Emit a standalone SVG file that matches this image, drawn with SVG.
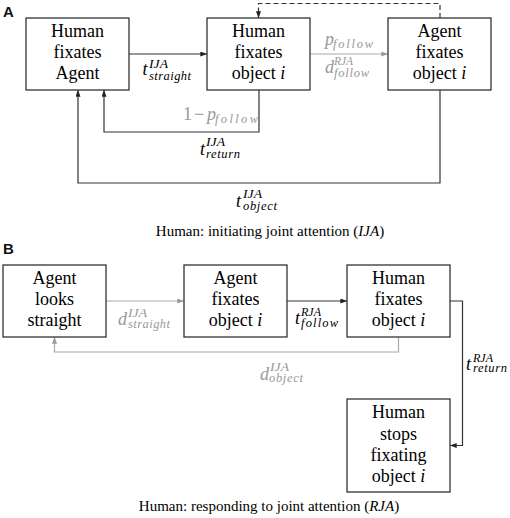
<svg xmlns="http://www.w3.org/2000/svg" width="510" height="518" viewBox="0 0 510 518">
<style>
.box{fill:#fff;stroke:#333;stroke-width:1.3}
.nt{font-size:18px;fill:#000;text-anchor:middle}
.m{font-style:italic;fill:#000}
.big{font-size:18px}
.sm{font-size:12.5px}
.g{fill:#999}
.ln{fill:none;stroke:#333;stroke-width:1.2}
.lg{fill:none;stroke:#aaa;stroke-width:1.2}
.cap{font-size:15px;fill:#000;text-anchor:middle}
.pl{font-family:'Liberation Sans',Arial,sans-serif;font-weight:bold;font-size:15px;fill:#111}
</style>
<defs>
<marker id="ah" viewBox="0 0 8 6" refX="8" refY="3" markerWidth="7" markerHeight="5" orient="auto" markerUnits="userSpaceOnUse"><path d="M0,0 L8,3 L0,6 z" fill="#222"/></marker>
<marker id="ahg" viewBox="0 0 8 6" refX="8" refY="3" markerWidth="7" markerHeight="5" orient="auto" markerUnits="userSpaceOnUse"><path d="M0,0 L8,3 L0,6 z" fill="#999"/></marker>
</defs>
<rect width="510" height="518" fill="#fff"/>
<text class="pl" x="3" y="17">A</text>
<text class="pl" x="3" y="254">B</text>

<g id="connectors">
<path class="ln" d="M129,54 H207" marker-end="url(#ah)"/>
<path class="lg" d="M310,54 H388" marker-end="url(#ahg)"/>
<path class="ln" d="M440,18 V3.5 H258.5 V18" stroke-dasharray="5,3" marker-end="url(#ah)"/>
<path class="ln" d="M259,90 V132 H104 V90" marker-end="url(#ah)"/>
<path class="ln" d="M440,90 V183 H78 V90" marker-end="url(#ah)"/>
<path class="lg" d="M106,301 H184" marker-end="url(#ahg)"/>
<path class="ln" d="M287,301 H347" marker-end="url(#ah)"/>
<path class="lg" d="M398.5,337 V352 H54.5 V337" marker-end="url(#ahg)"/>
<path class="ln" d="M450,301 H462.5 V445.5 H450" marker-end="url(#ah)"/>
</g>

<g id="labels" font-family="Liberation Serif, Times New Roman, DejaVu Serif, serif">
<text class="m big" x="142.5" y="75">t</text>
<text class="m sm" x="149" y="68" textLength="19" lengthAdjust="spacingAndGlyphs">IJA</text>
<text class="m sm" x="149" y="80" textLength="42" lengthAdjust="spacing">straight</text>

<text class="m big g" x="325" y="45">p</text>
<text class="m sm g" x="333" y="48" textLength="40" lengthAdjust="spacing">follow</text>
<text class="m big g" x="325" y="73">d</text>
<text class="m sm g" x="334" y="65" textLength="19" lengthAdjust="spacingAndGlyphs">RJA</text>
<text class="m sm g" x="334" y="77" textLength="35" lengthAdjust="spacing">follow</text>

<text class="g" font-size="18" x="183" y="120">1</text>
<text class="g" font-size="18" x="194" y="120">−</text>
<text class="m big g" x="207" y="120">p</text>
<text class="m sm g" x="215" y="123" textLength="43" lengthAdjust="spacing">follow</text>

<text class="m big" x="200" y="155">t</text>
<text class="m sm" x="206" y="146" textLength="19" lengthAdjust="spacingAndGlyphs">IJA</text>
<text class="m sm" x="206" y="158" textLength="34" lengthAdjust="spacing">return</text>

<text class="m big" x="236" y="207">t</text>
<text class="m sm" x="243" y="198" textLength="19" lengthAdjust="spacingAndGlyphs">IJA</text>
<text class="m sm" x="243" y="210" textLength="34" lengthAdjust="spacing">object</text>

<text class="cap" x="270" y="236">Human: initiating joint attention (<tspan font-style="italic">IJA</tspan>)</text>

<text class="m big g" x="118" y="325">d</text>
<text class="m sm g" x="128" y="317" textLength="19" lengthAdjust="spacingAndGlyphs">IJA</text>
<text class="m sm g" x="128" y="328" textLength="42" lengthAdjust="spacing">straight</text>

<text class="m big" x="295" y="324">t</text>
<text class="m sm" x="301" y="316" textLength="20" lengthAdjust="spacingAndGlyphs">RJA</text>
<text class="m sm" x="301" y="327" textLength="37" lengthAdjust="spacing">follow</text>

<text class="m big g" x="260" y="380">d</text>
<text class="m sm g" x="270" y="371" textLength="19" lengthAdjust="spacingAndGlyphs">IJA</text>
<text class="m sm g" x="269" y="382" textLength="34" lengthAdjust="spacing">object</text>

<text class="m big" x="466" y="370">t</text>
<text class="m sm" x="473" y="362" textLength="20" lengthAdjust="spacingAndGlyphs">RJA</text>
<text class="m sm" x="473" y="372" textLength="34" lengthAdjust="spacing">return</text>

<text class="cap" x="269" y="511">Human: responding to joint attention (<tspan font-style="italic">RJA</tspan>)</text>
</g>

<g font-family="Liberation Serif, Times New Roman, DejaVu Serif, serif">
<g id="a1"><rect class="box" x="26" y="18" width="103" height="72"/>
<text class="nt" x="77.5" y="37">Human</text><text class="nt" x="77.5" y="58">fixates</text><text class="nt" x="77.5" y="79">Agent</text></g>
<g id="a2"><rect class="box" x="207" y="18" width="103" height="72"/>
<text class="nt" x="258.5" y="37">Human</text><text class="nt" x="258.5" y="58">fixates</text><text class="nt" x="258.5" y="79">object <tspan font-style="italic">i</tspan></text></g>
<g id="a3"><rect class="box" x="388" y="18" width="103" height="72"/>
<text class="nt" x="439.5" y="37">Agent</text><text class="nt" x="439.5" y="58">fixates</text><text class="nt" x="439.5" y="79">object <tspan font-style="italic">i</tspan></text></g>

<g id="b1"><rect class="box" x="3" y="265" width="103" height="72"/>
<text class="nt" x="54.5" y="284">Agent</text><text class="nt" x="54.5" y="305">looks</text><text class="nt" x="54.5" y="326">straight</text></g>
<g id="b2"><rect class="box" x="184" y="265" width="103" height="72"/>
<text class="nt" x="235.5" y="284">Agent</text><text class="nt" x="235.5" y="305">fixates</text><text class="nt" x="235.5" y="326">object <tspan font-style="italic">i</tspan></text></g>
<g id="b3"><rect class="box" x="347" y="265" width="103" height="72"/>
<text class="nt" x="398.5" y="284">Human</text><text class="nt" x="398.5" y="305">fixates</text><text class="nt" x="398.5" y="326">object <tspan font-style="italic">i</tspan></text></g>
<g id="b4"><rect class="box" x="347" y="399" width="103" height="93"/>
<text class="nt" x="398.5" y="418">Human</text><text class="nt" x="398.5" y="440">stops</text><text class="nt" x="398.5" y="461">fixating</text><text class="nt" x="398.5" y="482">object <tspan font-style="italic">i</tspan></text></g>
</g>
</svg>
